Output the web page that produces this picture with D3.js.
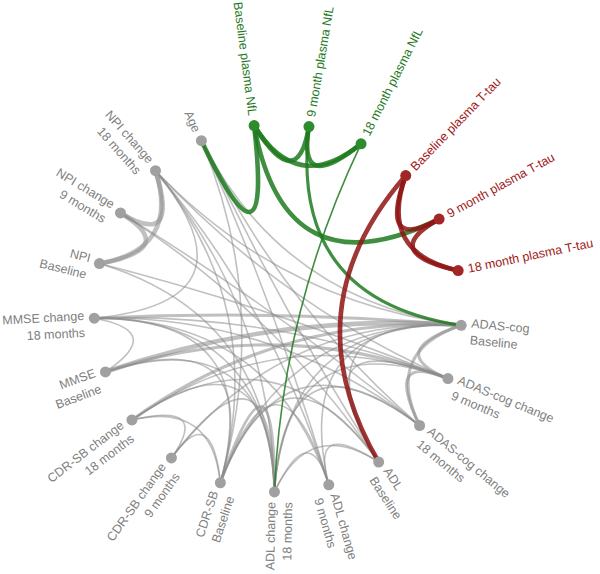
<!DOCTYPE html>
<html>
<head>
<meta charset="utf-8">
<script src="https://cdn.jsdelivr.net/npm/d3@7"></script>
<style>
  body { margin: 0; background: #fff; }
  text { font-family: "Liberation Sans", Arial, sans-serif; font-size: 12.5px; }
</style>
</head>
<body>
<div id="chart"></div>
<script>
// nodes, in order clockwise starting at "Age"
var nodeIds = ["age", "nflB", "nfl9", "nfl18", "ttB", "tt9", "tt18",
  "adasB", "adas9", "adas18", "adlB", "adl9", "adl18",
  "cdrB", "cdr9", "cdr18", "mmseB", "mmse18", "npiB", "npi9", "npi18"];

var nodeGroups = ["Age", "NfL", "NfL", "NfL", "Ttau", "Ttau", "Ttau",
  "ADAS", "ADAS", "ADAS", "ADL", "ADL", "ADL",
  "CDR", "CDR", "CDR", "MMSE", "MMSE", "NPI", "NPI", "NPI"];

var nodeLabels = [
  ["Age"],
  ["Baseline plasma NfL"], ["9 month plasma NfL"], ["18 month plasma NfL"],
  ["Baseline plasma T-tau"], ["9 month plasma T-tau"], ["18 month plasma T-tau"],
  ["ADAS-cog", "Baseline"], ["ADAS-cog change", "9 months"], ["ADAS-cog change", "18 months"],
  ["ADL", "Baseline"], ["ADL change", "9 months"], ["ADL change", "18 months"],
  ["CDR-SB", "Baseline"], ["CDR-SB change", "9 months"], ["CDR-SB change", "18 months"],
  ["MMSE", "Baseline"], ["MMSE change", "18 months"],
  ["NPI", "Baseline"], ["NPI change", "9 months"], ["NPI change", "18 months"]
];

// links: [source, target, strength 1-3]
var links = [
  // plasma NfL
  ["age", "nflB", 3], ["nflB", "nfl9", 3], ["nflB", "nfl18", 3], ["nfl9", "nfl18", 3],
  ["nflB", "tt9", 3], ["nfl9", "adasB", 2], ["nfl18", "adl18", 1],
  // plasma T-tau
  ["ttB", "tt9", 3], ["ttB", "tt18", 3], ["tt9", "tt18", 3], ["ttB", "adlB", 3],
  // clinical measures
  ["npiB", "npi9", 3], ["npiB", "npi18", 3], ["npi9", "npi18", 3],
  ["mmseB", "mmse18", 1],
  ["cdrB", "cdr9", 1], ["cdrB", "cdr18", 1], ["cdr9", "cdr18", 1],
  ["adlB", "adl9", 1], ["adlB", "adl18", 1], ["adl9", "adl18", 1],
  ["adasB", "adas9", 2], ["adasB", "adas18", 2], ["adas9", "adas18", 2],
  ["age", "adasB", 1], ["age", "adas18", 1], ["age", "adlB", 1], ["age", "cdrB", 1], ["age", "adl9", 1],
  ["npi18", "adl18", 1], ["npi18", "cdrB", 1], ["npi18", "adl9", 1], ["npi18", "adas9", 1], ["npi18", "adasB", 1],
  ["npi9", "adas18", 1], ["npi9", "adlB", 1],
  ["npiB", "adas9", 1], ["npiB", "adl18", 1],
  ["mmse18", "adasB", 2], ["mmse18", "adas9", 1], ["mmse18", "adl18", 1], ["mmse18", "cdrB", 1],
  ["mmse18", "adas18", 1], ["mmse18", "adl9", 1], ["mmse18", "npi18", 1],
  ["mmseB", "adasB", 3], ["mmseB", "adas9", 2], ["mmseB", "adl18", 1], ["mmseB", "cdrB", 1],
  ["cdr18", "adasB", 2], ["cdr18", "adas9", 1], ["cdr18", "adl18", 1], ["cdr18", "adlB", 1],
  ["cdr9", "adasB", 1], ["cdr9", "adl18", 1],
  ["cdrB", "adasB", 1], ["cdrB", "adl18", 2], ["cdrB", "adlB", 1], ["cdrB", "adl9", 1], ["cdrB", "adas18", 1],
  ["adl18", "adasB", 1], ["adl18", "adas9", 1], ["adl18", "adas18", 1],
  ["adl9", "adasB", 1],
  ["adlB", "adasB", 1], ["adlB", "adas9", 1]
];

var width = 600, height = 574;
var cx = 278, cy = 308, radius = 184;
var startAngle = -24.6;

var green = "#1f7a1f", red = "#8e1414", grey = "#8c8c8c";

var svg = d3.select("#chart").append("svg")
  .attr("width", width)
  .attr("height", height);

var g = svg.append("g")
  .attr("transform", "translate(" + cx + "," + cy + ")");

// angle of each node, degrees clockwise from top
var angle = d3.scaleLinear()
  .domain([0, nodeIds.length])
  .range([startAngle, startAngle + 360]);

var strokeW = d3.scaleLinear().domain([1, 3]).range([1.6, 4.6]);

var nodes = nodeIds.map(function (id, i) {
  var a = angle(i) * Math.PI / 180;
  return {
    id: id, index: i, group: nodeGroups[i], label: nodeLabels[i],
    deg: angle(i),
    x: radius * Math.sin(a), y: -radius * Math.cos(a)
  };
});
var byId = {};
nodes.forEach(function (d) { byId[d.id] = d; });

// centre of each group (used to pull links within a group)
var groupAngle = {};
d3.group(nodes, function (d) { return d.group; }).forEach(function (list, key) {
  groupAngle[key] = d3.mean(list, function (d) { return d.deg; });
});

function linkColor(s, t) {
  if (s.group == "NfL" || t.group == "NfL") return green;
  if (s.group == "Ttau" || t.group == "Ttau") return red;
  return grey;
}

function linkPath(s, t) {
  var p = d3.path();
  var kx = 0, ky = 0;
  if (s.group == t.group) {
    var a = groupAngle[s.group] * Math.PI / 180;
    kx = radius * 0.62 * Math.sin(a);
    ky = -radius * 0.62 * Math.cos(a);
  } else {
    // slightly less pull to the centre for cross-group links
    kx = 0.1 * (s.x + t.x) / 2;
    ky = 0.1 * (s.y + t.y) / 2;
  }
  p.moveTo(s.x, s.y);
  p.quadraticCurveTo(kx, ky, t.x, t.y);
  return p.toString();
}

var linkData = links.map(function (l) {
  var s = byId[l[0]], t = byId[l[1]];
  return { s: s, t: t, w: l[2], color: linkColor(s, t) };
});
var order = {};
order[grey] = 0; order[green] = 1; order[red] = 2;
linkData.sort(function (a, b) { return order[a.color] - order[b.color]; });

g.append("g").selectAll("path")
  .data(linkData)
  .join("path")
  .attr("d", function (d) { return linkPath(d.s, d.t); })
  .style("fill", "none")
  .style("stroke", function (d) { return d.color; })
  .style("stroke-opacity", function (d) { return d.color == grey ? 0.55 : 0.85; })
  .style("stroke-width", function (d) { return strokeW(d.w) + "px"; });

// nodes
g.append("g").selectAll("circle")
  .data(nodes)
  .join("circle")
  .attr("cx", function (d) { return d.x; })
  .attr("cy", function (d) { return d.y; })
  .attr("r", 5.5)
  .style("fill", function (d) {
    if (d.group == "NfL") return "#2e8b2e";
    if (d.group == "Ttau") return "#a32626";
    return "#a0a0a0";
  });

// labels
var labels = g.append("g").selectAll("text")
  .data(nodes)
  .join("text")
  .attr("transform", function (d) {
    var t = "rotate(" + (d.deg - 90) + ") translate(" + (radius + 10) + ",0)";
    if (Math.sin(d.deg * Math.PI / 180) < 0) t += " rotate(180)";
    return t;
  })
  .style("text-anchor", function (d) {
    return Math.sin(d.deg * Math.PI / 180) < 0 ? "end" : "start";
  })
  .style("fill", function (d) {
    if (d.group == "NfL") return green;
    if (d.group == "Ttau") return "#a01818";
    return "#808080";
  });

labels.selectAll("tspan")
  .data(function (d) { return d.label; })
  .join("tspan")
  .attr("x", 0)
  .attr("dy", function (d, i, all) {
    if (all.length == 1) return "0.35em";
    return i == 0 ? "0.1em" : "1.35em";
  })
  .text(function (d) { return d; });
</script>
</body>
</html>
